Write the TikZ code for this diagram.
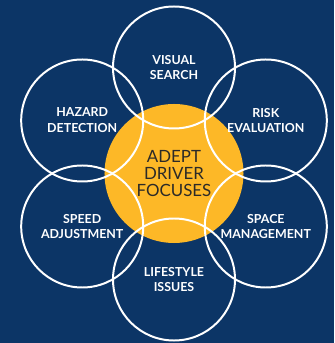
\documentclass[tikz,border=0pt]{standalone}
\usepackage{fontspec}
\setmainfont{Lato}
\definecolor{navy}{HTML}{0C3566}
\definecolor{gold}{HTML}{FDB827}
\definecolor{ink}{HTML}{2B2A28}

\begin{document}
\begin{tikzpicture}[x=0.03cm, y=0.03cm]

		\tikzstyle{focus} = [circle, fill=gold, minimum size=4.17cm, inner sep=0pt, text=ink, align=center, font=\fontsize{14.4}{14.5}\selectfont]
		\tikzstyle{skill} = [circle, draw=white, line width=1.7pt, minimum size=3.66cm, inner sep=0pt, text=white, align=center, font=\bfseries\fontsize{10.6}{13.6}\selectfont]

		\fill[navy] (-174,-169.5) rectangle (160,173.5);

		\node[focus](F) at (0,0){ADEPT\\DRIVER\\FOCUSES};

		\node[skill](VS) at (90:106){VISUAL\\SEARCH};
		\node[skill](RE) at (30:106){RISK\\EVALUATION};
		\node[skill](SM) at (-30:106){SPACE\\MANAGEMENT};
		\node[skill](LI) at (-90:106){LIFESTYLE\\ISSUES};
		\node[skill](SA) at (210:106){SPEED\\ADJUSTMENT};
		\node[skill](HD) at (150:106){HAZARD\\DETECTION};

  \end{tikzpicture}
\end{document}
